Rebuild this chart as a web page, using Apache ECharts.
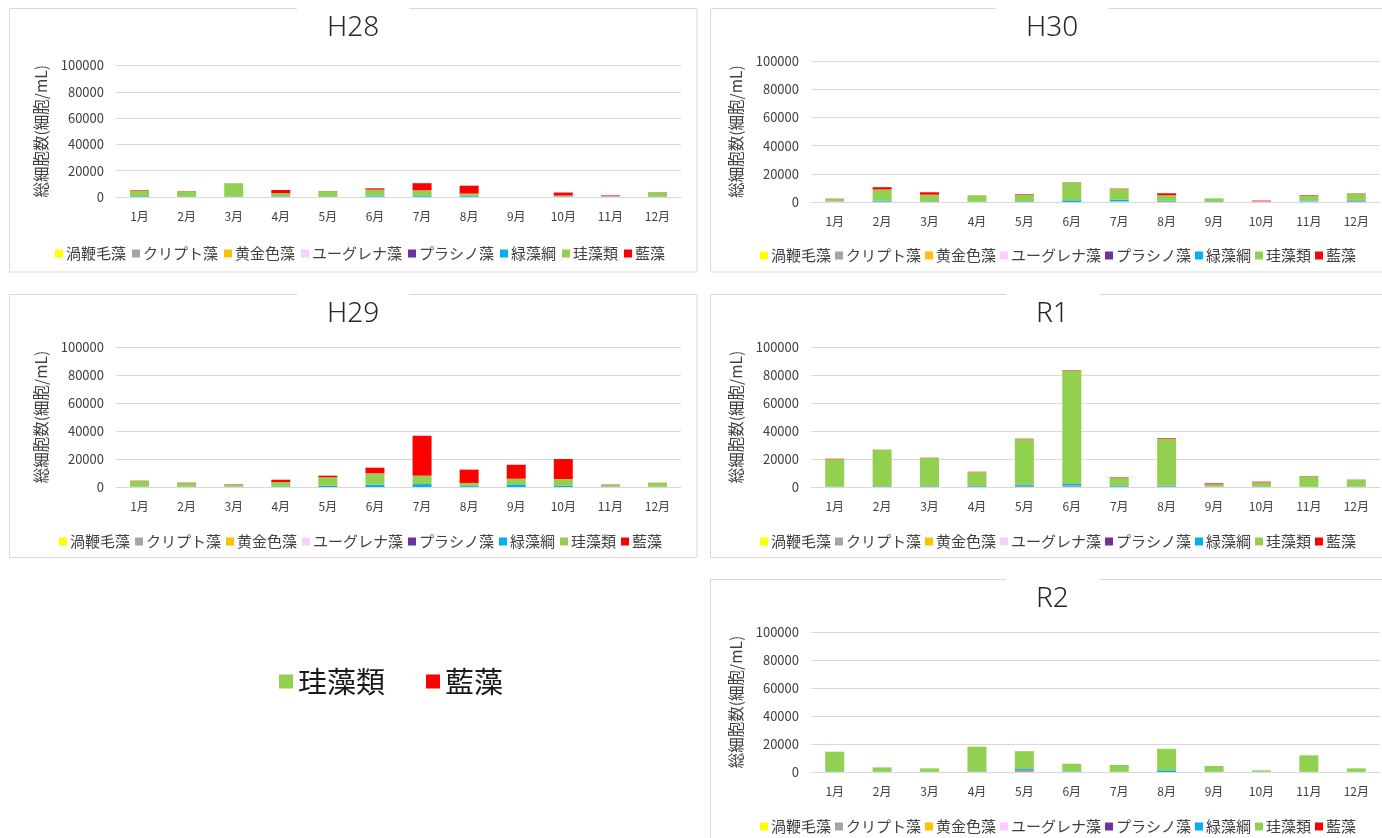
<!DOCTYPE html>
<html>
<head>
<meta charset="utf-8">
<script src="https://cdn.jsdelivr.net/npm/echarts@6/dist/echarts.min.js"></script>
<style>
  html, body { margin: 0; padding: 0; background: #fff; }
  #chart { width: 1382px; height: 838px; }
</style>
</head>
<body>
<div id="chart"></div>
<script>
// Months on the category axis
const months = ['1月','2月','3月','4月','5月','6月','7月','8月','9月','10月','11月','12月'];
// Algal groups, in stacking order (bottom to top)
const groups = ['渦鞭毛藻','クリプト藻','黄金色藻','ユーグレナ藻','プラシノ藻','緑藻綱','珪藻類','藍藻'];
// Survey years
const years = ['H28','H29','H30','R1','R2'];
// Y-axis ticks
const yTicks = [0, 20000, 40000, 60000, 80000, 100000];

// Cell counts (cells/mL) per group and month
const h28Dino    = [0,0,0,0,0,0,0,0,0,0,0,0];
const h28Crypto  = [100,100,100,100,100,100,100,200,0,100,0,100];
const h28Gold    = [0,0,0,0,0,0,0,0,0,0,0,0];
const h28Eugl    = [0,0,0,100,0,200,100,0,0,0,300,0];
const h28Pras    = [0,0,0,0,0,0,0,0,0,0,0,0];
const h28Chloro  = [500,300,300,400,300,800,600,700,0,300,100,300];
const h28Diatom  = [4300,4000,9900,2300,4000,4500,4300,1700,0,700,200,3000];
const h28Cyano   = [400,200,100,2400,200,1000,5400,6000,0,2300,600,200];

const h29Dino    = [0,0,0,0,0,0,0,0,0,0,0,0];
const h29Crypto  = [0,0,0,0,0,0,0,100,0,0,0,0];
const h29Gold    = [200,0,200,0,0,0,0,0,0,0,0,0];
const h29Eugl    = [0,0,0,0,0,0,0,0,0,0,0,0];
const h29Pras    = [0,0,0,0,0,0,0,0,0,0,0,0];
const h29Chloro  = [200,200,200,400,900,1700,2100,700,1900,900,300,200];
const h29Diatom  = [3900,2600,1200,3100,6000,8100,6000,2100,4000,4800,1100,2800];
const h29Cyano   = [200,300,300,1700,1200,4000,28500,9500,10000,14300,300,100];

const h30Dino    = [0,0,0,0,0,0,0,0,0,0,0,0];
const h30Crypto  = [0,300,0,0,0,0,0,300,0,0,0,1200];
const h30Gold    = [0,0,0,0,100,0,0,0,200,0,0,0];
const h30Eugl    = [400,0,0,0,0,0,400,0,0,300,400,0];
const h30Pras    = [0,0,0,0,0,0,0,0,0,0,0,0];
const h30Chloro  = [200,700,400,300,400,1200,1200,500,400,0,700,300];
const h30Diatom  = [1600,7900,4800,4500,4800,12600,7600,4000,2000,200,3300,4500];
const h30Cyano   = [200,1600,1700,0,400,200,300,1400,0,500,400,200];

const r1Dino     = [0,0,0,0,0,0,0,0,0,0,0,0];
const r1Crypto   = [200,300,100,200,800,1000,200,300,200,300,0,100];
const r1Gold     = [0,0,0,0,0,0,0,0,0,200,0,0];
const r1Eugl     = [0,0,0,0,0,0,0,0,0,0,0,0];
const r1Pras     = [0,0,0,0,0,0,0,0,0,0,0,0];
const r1Chloro   = [200,300,400,600,1000,1200,900,700,200,200,200,200];
const r1Diatom   = [19500,26000,20200,9800,32400,81000,5700,33600,1500,2600,7500,4700];
const r1Cyano    = [300,100,200,300,300,300,300,400,700,500,200,200];

const r2Dino     = [0,0,0,0,0,0,0,0,0,0,0,0];
const r2Crypto   = [0,0,0,0,1200,100,0,0,0,200,0,0];
const r2Gold     = [0,0,0,0,0,0,0,0,0,0,0,0];
const r2Eugl     = [0,0,0,0,0,0,0,0,0,0,0,0];
const r2Pras     = [0,0,0,0,200,0,0,0,0,0,0,0];
const r2Chloro   = [300,200,200,300,700,300,200,1200,300,100,200,200];
const r2Diatom   = [14200,3100,2400,17800,12800,5500,4800,15400,4000,900,11700,2400];
const r2Cyano    = [0,0,0,0,0,0,0,0,0,0,0,0];

const yearSeries = [
  [h28Dino, h28Crypto, h28Gold, h28Eugl, h28Pras, h28Chloro, h28Diatom, h28Cyano],
  [h29Dino, h29Crypto, h29Gold, h29Eugl, h29Pras, h29Chloro, h29Diatom, h29Cyano],
  [h30Dino, h30Crypto, h30Gold, h30Eugl, h30Pras, h30Chloro, h30Diatom, h30Cyano],
  [r1Dino,  r1Crypto,  r1Gold,  r1Eugl,  r1Pras,  r1Chloro,  r1Diatom,  r1Cyano],
  [r2Dino,  r2Crypto,  r2Gold,  r2Eugl,  r2Pras,  r2Chloro,  r2Diatom,  r2Cyano]
];

const groupColors = ['#FFFF00','#A5A5A5','#FFC000','#FFCCFF','#7030A0','#00B0F0','#92D050','#FF0000'];

// Panel layout: frame box, plot area, legend position
const panels = [
  { box: [9.5, 8.5, 687.5, 263.5],  grid: { left: 116, top: 65.5, width: 565, height: 131.5 }, legend: { left: 50, top: 241, gap: 6 } },
  { box: [9.5, 294.5, 687.5, 263],  grid: { left: 116, top: 347, width: 565, height: 140 },    legend: { left: 54, top: 529, gap: 5 } },
  { box: [710.5, 8.5, 683, 263.5],  grid: { left: 811, top: 61, width: 569, height: 141 },     legend: { left: 755, top: 243, gap: 4 } },
  { box: [710.5, 294.5, 683, 263],  grid: { left: 811, top: 347, width: 569, height: 140 },    legend: { left: 755, top: 529, gap: 4 } },
  { box: [710.5, 579.5, 683, 300],  grid: { left: 811, top: 632, width: 569, height: 140 },    legend: { left: 755, top: 814, gap: 4 } }
];

const font = '"Noto Sans CJK JP", "Noto Sans", sans-serif';
const titleFont = '300 28px "Noto Sans", sans-serif';
const axisGray = '#404040';
const lineGray = '#d9d9d9';
const titlePad = 30;

// Width of a title string, used to centre each title (with its white band) on its frame
const measureCtx = document.createElement('canvas').getContext('2d');
function titleWidth(text) {
  measureCtx.font = titleFont;
  return measureCtx.measureText(text).width;
}

const option = {
  animation: false,
  backgroundColor: '#fff',
  textStyle: { fontFamily: font },
  graphic: panels.map(p => ({
    type: 'rect',
    z: 0,
    silent: true,
    shape: { x: p.box[0], y: p.box[1], width: p.box[2], height: p.box[3] },
    style: { fill: '#fff', stroke: lineGray, lineWidth: 1 }
  })),
  title: panels.map((p, i) => ({
    text: years[i],
    left: Math.round(p.box[0] + p.box[2] / 2 - titleWidth(years[i]) / 2 - titlePad),
    top: p.box[1] - 2,
    padding: [8, titlePad, 2, titlePad],
    backgroundColor: '#fff',
    z: 10,
    textStyle: { fontFamily: '"Noto Sans", sans-serif', fontWeight: 300, fontSize: 28, color: '#262626' }
  })),
  grid: panels.map(p => Object.assign({ containLabel: false }, p.grid)),
  xAxis: panels.map((p, i) => ({
    type: 'category',
    gridIndex: i,
    data: months,
    axisTick: { show: false },
    axisLine: { lineStyle: { color: lineGray, width: 1 } },
    axisLabel: { color: axisGray, fontSize: 12, margin: 13, fontFamily: font }
  })),
  yAxis: panels.map((p, i) => ({
    type: 'value',
    gridIndex: i,
    min: yTicks[0],
    max: yTicks[yTicks.length - 1],
    interval: yTicks[1] - yTicks[0],
    name: '総細胞数(細胞/mL)',
    nameLocation: 'middle',
    nameGap: 67,
    nameTextStyle: { color: axisGray, fontSize: 15.5, fontFamily: font },
    axisLine: { show: false },
    axisTick: { show: false },
    axisLabel: { color: axisGray, fontSize: 13, margin: 12, fontFamily: font, formatter: v => String(v) },
    splitLine: { lineStyle: { color: lineGray, width: 1 } }
  })),
  legend: panels.map(p => ({
    data: groups,
    left: p.legend.left,
    top: p.legend.top,
    icon: 'rect',
    itemWidth: 8,
    itemHeight: 8,
    itemGap: p.legend.gap,
    selectedMode: false,
    textStyle: { color: axisGray, fontSize: 15, fontFamily: font, padding: [0, 0, 0, -2] }
  })).concat([{
    data: ['珪藻類', '藍藻'],
    left: 274,
    top: 662,
    icon: 'rect',
    itemWidth: 14,
    itemHeight: 14,
    itemGap: 41,
    selectedMode: false,
    textStyle: { color: '#1a1a1a', fontSize: 29, fontFamily: font }
  }]),
  series: []
};

yearSeries.forEach((rows, i) => {
  rows.forEach((values, g) => {
    option.series.push({
      type: 'bar',
      name: groups[g],
      stack: 'year' + i,
      xAxisIndex: i,
      yAxisIndex: i,
      barWidth: 19,
      data: values,
      itemStyle: { color: groupColors[g] },
      emphasis: { disabled: true }
    });
  });
});

const chart = echarts.init(document.getElementById('chart'), null, { renderer: 'canvas' });
chart.setOption(option);
</script>
</body>
</html>
